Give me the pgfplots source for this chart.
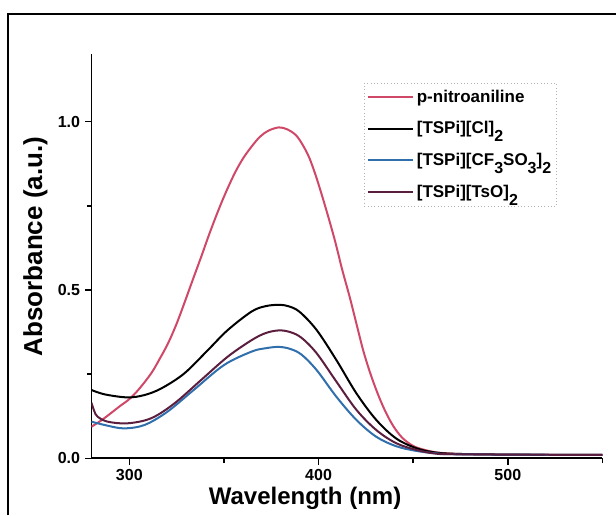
\documentclass[border=0pt]{standalone}
\usepackage{pgfplots}
\pgfplotsset{compat=1.18}
\usepackage{fontspec}
\setmainfont{Liberation Sans}
\definecolor{cred}{RGB}{208,72,104}
\definecolor{cblue}{RGB}{48,110,172}
\definecolor{cpurp}{RGB}{92,30,62}
\newcommand{\sub}[1]{\raisebox{-6pt}{\fontsize{12}{12}\selectfont #1}}
\begin{document}
\begin{tikzpicture}
\useasboundingbox (0,0) rectangle (462pt,386.25pt);
\draw[line width=1.2pt] (6pt,0pt) -- (6pt,375.75pt) -- (462pt,375.75pt);
\begin{axis}[
  at={(68.6pt,42.5pt)}, anchor=south west,
  scale only axis, width=383.25pt, height=303pt,
  xmin=280, xmax=550, ymin=0, ymax=1.2,
  axis lines=left, axis line style={-, line width=1.4pt},
  xtick={300,400,500}, minor xtick={350,450,550},
  ytick={0,0.5,1.0}, minor ytick={0.25,0.75},
  tick align=outside, major tick length=5pt, minor tick length=3.5pt,
  tick style={line width=1.2pt, black},
  /pgf/number format/assume math mode=true,
  /pgf/number format/fixed, /pgf/number format/fixed zerofill,
  /pgf/number format/precision=1,
  xticklabel style={font=\fontsize{12}{14}\selectfont\bfseries},
  xticklabel={\pgfmathprintnumber[fixed,precision=0,set thousands separator={}]{\tick}},
  yticklabel style={font=\fontsize{12}{14}\selectfont\bfseries},
  xlabel={Wavelength (nm)},
  ylabel={Absorbance (a.u.)},
  xlabel style={font=\fontsize{18}{20}\selectfont\bfseries, at={(rel axis cs:0.418,-0.098)}, anchor=center},
  ylabel style={font=\fontsize{19.5}{22}\selectfont\bfseries, at={(rel axis cs:-0.1096,0.524)}, anchor=center},
  legend style={at={(rel axis cs:0.533,0.929)}, anchor=north west,
    draw=gray!60, dotted, line width=0.5pt, font=\fontsize{12.75}{15}\selectfont\bfseries,
    cells={anchor=west, solid}, inner xsep=2pt, inner ysep=3pt, row sep=9pt},
  legend image code/.code={\draw[#1, solid] (0pt,0pt) -- (34pt,0pt);},
  every axis plot/.append style={line width=1.5pt, smooth, tension=0.55},
]
\addplot[cred] table {
280 0.094
285 0.112
290 0.133
295 0.155
300 0.176
305 0.205
311.5 0.252
316 0.295
320.5 0.342
325 0.400
329 0.460
333.5 0.530
338 0.599
342.5 0.670
347 0.736
351 0.790
355.7 0.847
360 0.890
364.6 0.926
369 0.955
373.4 0.973
379 0.983
383.5 0.977
388 0.960
391.5 0.932
395 0.894
398.5 0.840
402 0.777
405.5 0.710
409 0.639
412.5 0.560
416.4 0.480
420 0.400
423.5 0.322
427 0.258
430.5 0.203
434 0.155
437.6 0.114
441 0.083
444.6 0.059
449 0.040
453 0.030
462 0.018
475 0.013
500 0.011
525 0.010
550 0.010
};
\addlegendentry{p-nitroaniline}
\addplot[black] table {
280 0.203
287 0.190
299 0.181
308 0.188
317 0.208
329 0.252
341.6 0.322
352 0.381
364.6 0.436
372 0.452
379 0.456
384 0.452
390 0.435
399 0.381
409.4 0.292
420 0.193
430.5 0.114
441 0.059
451.7 0.030
462 0.017
475 0.013
500 0.011
550 0.010
};
\addlegendentry{[TSPi][Cl]\sub{2}}
\addplot[cblue] table {
280 0.109
287 0.099
297 0.089
308 0.099
320 0.138
334 0.203
350 0.277
364.6 0.317
372 0.327
379 0.331
385 0.325
391 0.308
399 0.262
409.4 0.183
420 0.114
430.5 0.064
441 0.036
451.7 0.022
462 0.015
475 0.012
550 0.010
};
\addlegendentry{[TSPi][CF\sub{3}SO\sub{3}]\sub{2}}
\addplot[cpurp] table {
280 0.165
281.5 0.140
283.2 0.124
288.5 0.109
299 0.104
311.5 0.119
323.8 0.163
338 0.233
352 0.302
364.6 0.351
372 0.372
379 0.380
385 0.375
391 0.358
399 0.312
409.4 0.228
420 0.144
430.5 0.084
441 0.045
451.7 0.025
462 0.014
475 0.012
550 0.010
};
\addlegendentry{[TSPi][TsO]\sub{2}}
\end{axis}
\end{tikzpicture}
\end{document}
